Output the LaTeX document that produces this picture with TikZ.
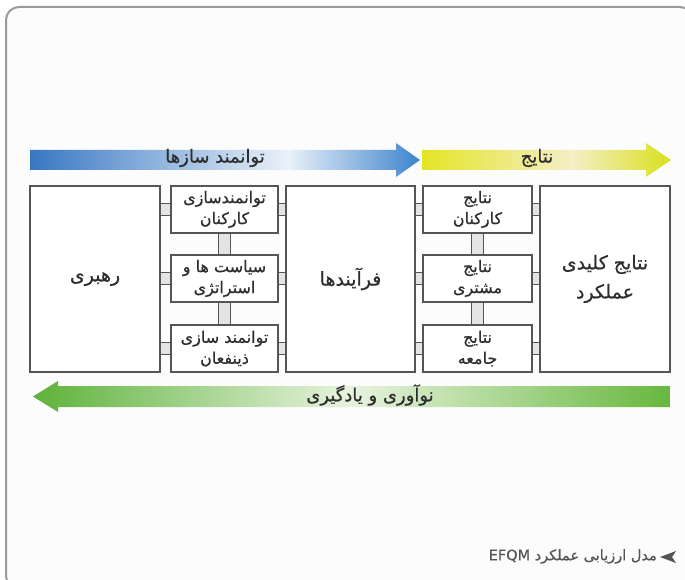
\documentclass[tikz,border=0pt]{standalone}
\usepackage{fontspec}
\usetikzlibrary{calc}
\TeXXeTstate=1
\newfontfamily\fa[Script=Arabic,FakeBold=0.6]{DejaVu Sans}
\definecolor{frameC}{HTML}{9A9A9A}
\definecolor{bgC}{HTML}{FCFCFD}
\definecolor{boxC}{HTML}{555555}
\definecolor{txtC}{HTML}{2E2E2E}
\definecolor{connC}{HTML}{E4E4E4}
\definecolor{blueA}{HTML}{3877C2}
\definecolor{blueB}{HTML}{EAF1F9}
\definecolor{blueC}{HTML}{3D84CD}
\definecolor{yelA}{HTML}{E4E424}
\definecolor{yelB}{HTML}{F4EFC6}
\definecolor{yelC}{HTML}{D9E01C}
\definecolor{grnA}{HTML}{5EB23A}
\definecolor{grnB}{HTML}{E8F3DF}
\definecolor{grnC}{HTML}{67B73E}
\pgfdeclarehorizontalshading{blueshade}{100bp}{color(0bp)=(blueA); color(25bp)=(blueA); color(58bp)=(blueB); color(75bp)=(blueC); color(100bp)=(blueC)}
\pgfdeclarehorizontalshading{yelshade}{100bp}{color(0bp)=(yelA); color(25bp)=(yelA); color(55bp)=(yelB); color(75bp)=(yelC); color(100bp)=(yelC)}
\pgfdeclarehorizontalshading{grnshade}{100bp}{color(0bp)=(grnA); color(25bp)=(grnA); color(50bp)=(grnB); color(75bp)=(grnC); color(100bp)=(grnC)}
\tikzset{
  bigbox/.style={draw=boxC, line width=1.4pt, fill=white, minimum height=186pt,
    inner sep=0pt, align=center, text=txtC, font=\fa\fontsize{19}{29}\selectfont},
  smallbox/.style={draw=boxC, line width=1.4pt, fill=white, minimum height=47pt,
    inner sep=0pt, align=center, text=txtC, font=\fa\fontsize{16}{21}\selectfont},
  conn/.style={draw=boxC, line width=1pt, fill=connC},
  arrowlabel/.style={text=txtC, font=\fa\fontsize{18}{20}\selectfont, inner sep=0pt},
}
\begin{document}
\begin{tikzpicture}[x=1pt, y=-1pt]
\useasboundingbox (0,0) rectangle (685,580);
\fill[white] (0,0) rectangle (685,580);
% outer frame
\begin{scope}
\clip (0,0) rectangle (685,580);
\draw[frameC, line width=2pt, fill=bgC, rounded corners=13pt] (6,7) rectangle (693,589);
\end{scope}

% top arrows
\shade[shading=blueshade] (30,150) -- (396,150) -- (396,143) -- (420,160) -- (396,177) -- (396,170) -- (30,170) -- cycle;
\shade[shading=yelshade] (422,150) -- (646,150) -- (646,143) -- (671,160) -- (646,177) -- (646,170) -- (422,170) -- cycle;
\node[arrowlabel] (enablers) at (215,158) {\beginR توانمند سازها\endR};
\node[arrowlabel] (results) at (537,158) {\beginR نتایج\endR};

% bottom arrow
\shade[shading=grnshade] (670,386) -- (58,386) -- (58,381) -- (33,396.5) -- (58,412) -- (58,407) -- (670,407) -- cycle;
\node[arrowlabel] (learning) at (370,395) {\beginR نوآوری و یادگیری\endR};

% main blocks
\node[bigbox, minimum width=130pt] (lead) at (95,279) {\beginR رهبری\endR};
\node[bigbox, minimum width=129pt] (proc) at (350.5,279) {\beginR فرآیندها\endR};
\node[bigbox, minimum width=130pt] (kpr) at (605,279) {\beginR نتایج کلیدی\endR\\\beginR عملکرد\endR};

\node[smallbox, minimum width=107pt] (people) at (224.5,209.5) {\beginR توانمندسازی\endR\\\beginR کارکنان\endR};
\node[smallbox, minimum width=107pt] (policy) at (224.5,278.5) {\beginR سیاست ها و\endR\\\beginR استراتژی\endR};
\node[smallbox, minimum width=107pt] (partner) at (224.5,348.5) {\beginR توانمند سازی\endR\\\beginR ذینفعان\endR};

\node[smallbox, minimum width=109pt] (pres) at (477.5,209.5) {\beginR نتایج\endR\\\beginR کارکنان\endR};
\node[smallbox, minimum width=109pt] (cres) at (477.5,278.5) {\beginR نتایج\endR\\\beginR مشتری\endR};
\node[smallbox, minimum width=109pt] (sres) at (477.5,348.5) {\beginR نتایج\endR\\\beginR جامعه\endR};

% horizontal links
\foreach \b in {people,policy,partner}{
  \draw[conn] ($(lead.east|-\b.center)+(0,-6)$) rectangle ($(\b.west)+(0,6)$);
  \draw[conn] ($(\b.east)+(0,-6)$) rectangle ($(proc.west|-\b.center)+(0,6)$);
}
\foreach \b in {pres,cres,sres}{
  \draw[conn] ($(proc.east|-\b.center)+(0,-6)$) rectangle ($(\b.west)+(0,6)$);
  \draw[conn] ($(\b.east)+(0,-6)$) rectangle ($(kpr.west|-\b.center)+(0,6)$);
}
% vertical links
\foreach \a/\b in {people/policy,policy/partner,pres/cres,cres/sres}{
  \draw[conn] ($(\a.south)+(-6,0)$) rectangle ($(\b.north)+(6,0)$);
}

% caption
\fill[boxC] (676,551) -- (660,557) -- (676,563) -- (672,557) -- cycle;
\node[anchor=east, text=boxC, font=\fa\fontsize{14.5}{16}\selectfont, inner sep=0pt] (caption) at (657,556.5)
  {\beginR مدل ارزیابی عملکرد \beginL EFQM\endL\endR};
\end{tikzpicture}
\end{document}
